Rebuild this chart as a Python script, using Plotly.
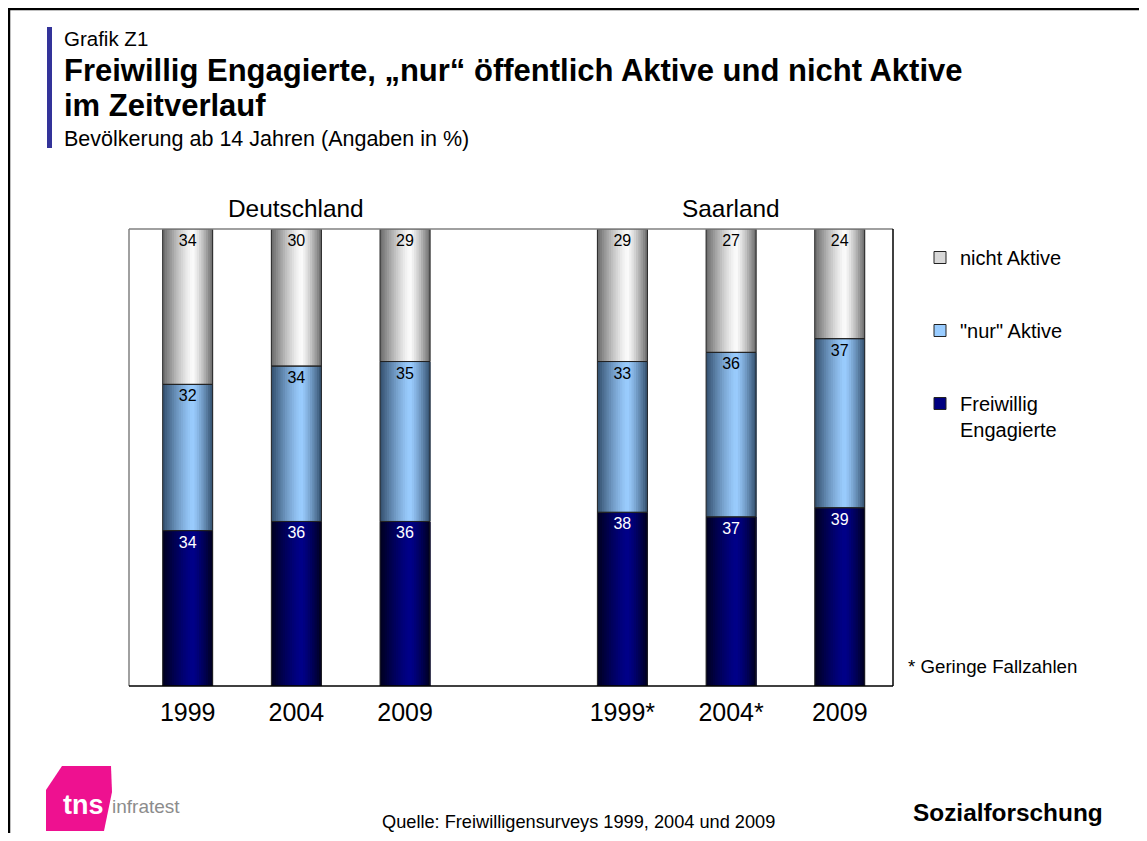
import plotly.graph_objects as go
import numpy as np

# data
regions = ["Deutschland", "Saarland"]
year_labels = [["1999", "2004", "2009"], ["1999*", "2004*", "2009"]]
series_names = ["Freiwillig<br>Engagierte", "\"nur\" Aktive", "nicht Aktive"]
freiwillig = [34, 36, 36, 38, 37, 39]
nur_aktive = [32, 34, 35, 33, 36, 37]
nicht_aktive = [34, 30, 29, 29, 27, 24]

values = [freiwillig, nur_aktive, nicht_aktive]
# (edge colour, highlight colour, flat legend colour, label colour)
styles = [
    ((0, 0, 30), (0, 0, 138), "#000080", "white"),
    ((50, 78, 108), (155, 205, 255), "#99ccff", "black"),
    ((105, 105, 105), (252, 252, 252), "#d8d8d8", "black"),
]

FONT = "Arial, Liberation Sans, sans-serif"
OFF = 8                      # browser body margin
W, H = 1131, 825
PL, PR, PT, PB = 129, 893, 229, 686   # plot area in page pixels


def px(x):
    return (x - PL) / (PR - PL)


def py(y):
    return (PB - y) / (PB - PT)


# x positions: one empty slot between the two regions
xpos, ticktext = [], []
for r, yrs in enumerate(year_labels):
    for i, lab in enumerate(yrs):
        xpos.append(r * (len(yrs) + 1) + i)
        ticktext.append(lab)

bar_w = 0.46
n_strips = 22
peak = 0.6

fig = go.Figure()

# cylinder-like shading: nested bars, each one starting a bit further right
base = np.zeros(len(xpos))
for vals, (edge, hi, flat, tcol) in zip(values, styles):
    vals = np.array(vals, dtype=float)
    for k in range(n_strips):
        t = (k + 0.5) / n_strips
        d = (peak - t) / peak if t < peak else (t - peak) / (1 - peak)
        f = 1 - d ** 1.3
        col = tuple(int(e + (h - e) * f) for e, h in zip(edge, hi))
        fig.add_trace(go.Bar(
            x=xpos, y=vals, base=base, width=bar_w * (1 - k / n_strips),
            offset=-bar_w / 2 + k * bar_w / n_strips,
            marker=dict(color="rgb(%d,%d,%d)" % col, line=dict(width=0)),
            showlegend=False, hoverinfo="skip"))
    base = base + vals

# outlines + value labels
base = np.zeros(len(xpos))
for vals, name, (edge, hi, flat, tcol) in zip(values, series_names, styles):
    vals = np.array(vals, dtype=float)
    fig.add_trace(go.Bar(
        x=xpos, y=vals, base=base, width=bar_w, offset=-bar_w / 2,
        marker=dict(color="rgba(0,0,0,0)", line=dict(color="#222222", width=1)),
        text=[str(int(v)) for v in vals], textposition="inside",
        insidetextanchor="end", textangle=0,
        textfont=dict(color=tcol, size=16, family=FONT),
        cliponaxis=False, showlegend=False, name=name))
    base = base + vals

# legend entries (top to bottom)
for name, (edge, hi, flat, tcol) in list(zip(series_names, styles))[::-1]:
    fig.add_trace(go.Bar(
        x=[None], y=[None], name=name, legendgroup=name,
        marker=dict(color=flat, line=dict(color="#222222", width=1))))

fig.update_layout(
    width=W, height=H, barmode="overlay", template="plotly_white",
    paper_bgcolor="white", plot_bgcolor="white",
    font=dict(family=FONT, color="black"),
    margin=dict(l=PL - OFF, r=W - (PR - OFF), t=PT - OFF, b=H - (PB - OFF),
                autoexpand=False),
    showlegend=True,
    legend=dict(x=px(920), y=py(238), xanchor="left", yanchor="top",
                traceorder="grouped", tracegroupgap=44, valign="top",
                font=dict(size=20), bgcolor="rgba(0,0,0,0)"),
)
fig.update_xaxes(range=[-0.54, xpos[-1] + 0.49], tickmode="array", tickvals=xpos,
                 ticktext=ticktext, showgrid=False, zeroline=False, ticks="",
                 tickfont=dict(size=25), ticklabelstandoff=9)
fig.update_yaxes(range=[0, 100], showgrid=False, zeroline=False,
                 showticklabels=False, ticks="")

# plot frame
fig.add_shape(type="line", xref="paper", yref="paper", x0=0, x1=1, y0=1, y1=1,
              line=dict(color="#808080", width=1.5))
fig.add_shape(type="line", xref="paper", yref="paper", x0=0, x1=0, y0=0, y1=1,
              line=dict(color="#808080", width=1.5))
fig.add_shape(type="line", xref="paper", yref="paper", x0=1, x1=1, y0=0, y1=1,
              line=dict(color="black", width=1.5))
fig.add_shape(type="line", xref="paper", yref="paper", x0=0, x1=1, y0=0, y1=0,
              line=dict(color="black", width=1.5))

# page border
fig.add_shape(type="line", xref="paper", yref="paper", x0=px(OFF), x1=px(OFF + W),
              y0=py(OFF + 1), y1=py(OFF + 1), line=dict(color="black", width=2.5))
fig.add_shape(type="line", xref="paper", yref="paper", x0=px(OFF + 1), x1=px(OFF + 1),
              y0=py(OFF), y1=py(OFF + H), line=dict(color="black", width=2.5))

# header bar
fig.add_shape(type="rect", xref="paper", yref="paper", x0=px(47), x1=px(52),
              y0=py(27), y1=py(148), fillcolor="#333399", line=dict(width=0))


def note(x, y, text, size, bold=False, anchor="left", color="black"):
    fig.add_annotation(x=px(x), y=py(y), xref="paper", yref="paper",
                       text="<b>%s</b>" % text if bold else text, showarrow=False,
                       xanchor=anchor, yanchor="middle", align="left",
                       font=dict(size=size, color=color, family=FONT))


note(62, 38, "Grafik Z1", 20.5)
note(62, 71, "Freiwillig Engagierte, „nur“ öffentlich Aktive und nicht Aktive", 31, bold=True)
note(62, 105, "im Zeitverlauf", 31, bold=True)
note(62, 139, "Bevölkerung ab 14 Jahren (Angaben in %)", 21.5)
note(906, 666, "* Geringe Fallzahlen", 18.7)
note(578, 822, "Quelle: Freiwilligensurveys 1999, 2004 und 2009", 18.2, anchor="center")
note(911, 812, "Sozialforschung", 24.4, bold=True)

# region headers centred over their bars
for r, reg in enumerate(regions):
    cx = np.mean(xpos[r * 3:(r + 1) * 3])
    fig.add_annotation(x=cx, y=py(208), xref="x", yref="paper", text=reg,
                       showarrow=False, xanchor="center", yanchor="middle",
                       font=dict(size=24.4))

# tns infratest logo
fig.add_shape(type="path", xref="paper", yref="paper",
              path="M %f,%f L %f,%f L %f,%f L %f,%f L %f,%f L %f,%f Z" % (
                  px(46), py(790), px(62), py(766), px(111), py(766),
                  px(112), py(792), px(104), py(831), px(46), py(831)),
              fillcolor="#ee1190", line=dict(width=0))
note(61, 805, "tns", 27, bold=True, color="white")
note(110, 806, "infratest", 19, color="#8c8c8c")

fig.write_html("out.html")
